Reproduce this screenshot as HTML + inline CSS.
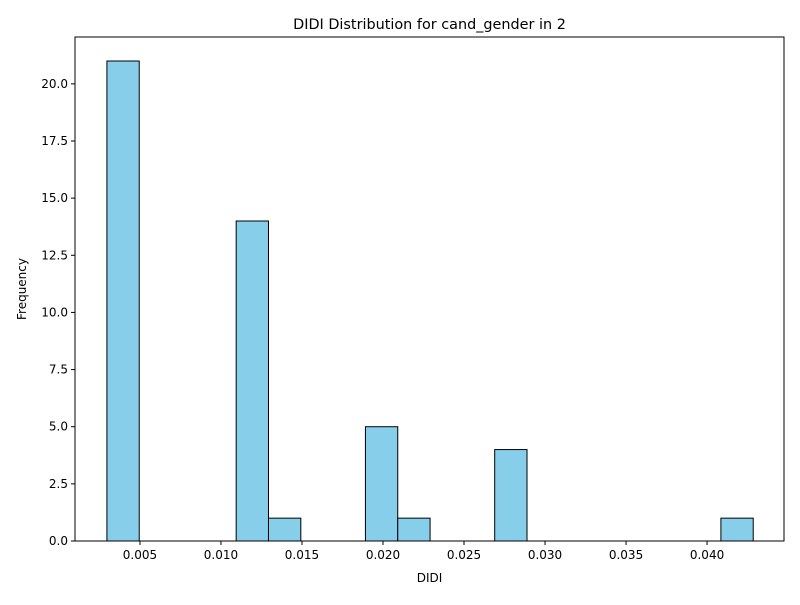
<!DOCTYPE html>
<html><head><meta charset="utf-8"><style>
body{margin:0;background:#fff;font-family:"Liberation Sans","DejaVu Sans",sans-serif;}
</style></head><body>
<svg id="chart" width="800" height="600" xmlns="http://www.w3.org/2000/svg" font-family="DejaVu Sans, Liberation Sans, sans-serif"></svg>
<script>
const binMin = 0.00296;
const binMax = 0.04285;
const counts = [21,0,0,0,14,1,0,0,5,1,0,0,4,0,0,0,0,0,0,1];
const xTicks = [0.005,0.010,0.015,0.020,0.025,0.030,0.035,0.040];
const xTickLabels = ["0.005","0.010","0.015","0.020","0.025","0.030","0.035","0.040"];
const yTicks = [0,2.5,5,7.5,10,12.5,15,17.5,20];
const yTickLabels = ["0.0","2.5","5.0","7.5","10.0","12.5","15.0","17.5","20.0"];

const L=75,R=784,T=37,B=541;
const xDom=[0.00099,0.04475], yDom=[0,22.05];
const xs=v=>L+(v-xDom[0])/(xDom[1]-xDom[0])*(R-L);
const ys=v=>B-(v-yDom[0])/(yDom[1]-yDom[0])*(B-T);
const svg=document.getElementById('chart');
const NS='http://www.w3.org/2000/svg';
function mk(tag,attrs,parent){const e=document.createElementNS(NS,tag);for(const k in attrs)e.setAttribute(k,attrs[k]);(parent||svg).appendChild(e);return e;}

const bw=(binMax-binMin)/counts.length;
counts.forEach((c,i)=>{
  if(c<=0)return;
  const x0=xs(binMin+i*bw),x1=xs(binMin+(i+1)*bw);
  const r=mk('rect',{x:x0,y:ys(c),width:x1-x0,height:ys(0)-ys(c),fill:'#87ceeb',stroke:'#000','stroke-width':1});
  
  
});
const frame=mk('rect',{x:L,y:T,width:R-L,height:B-T,fill:'none',stroke:'#000','stroke-width':1});



xTicks.forEach((v,i)=>{
  const x=xs(v);
  mk('line',{x1:x,x2:x,y1:B,y2:B+4,stroke:'#000'});
  const t=mk('text',{x:x,y:B+18,'text-anchor':'middle','font-size':12});
  t.textContent=xTickLabels[i];
  
  
});
yTicks.forEach((v,i)=>{
  const y=ys(v);
  mk('line',{x1:L-4,x2:L,y1:y,y2:y,stroke:'#000'});
  const t=mk('text',{x:L-7,y:y+4,'text-anchor':'end','font-size':12});
  t.textContent=yTickLabels[i];
  
  
});
const xt=mk('text',{x:(L+R)/2,y:582,'text-anchor':'middle','font-size':12});
xt.textContent='DIDI';


const yt=mk('text',{x:26,y:(T+B)/2,'text-anchor':'middle','font-size':12,transform:`rotate(-90 26 ${(T+B)/2})`});
yt.textContent='Frequency';


const tt=mk('text',{x:(L+R)/2,y:29,'text-anchor':'middle','font-size':14.4});
tt.textContent='DIDI Distribution for cand_gender in 2';


</script>
</body></html>
